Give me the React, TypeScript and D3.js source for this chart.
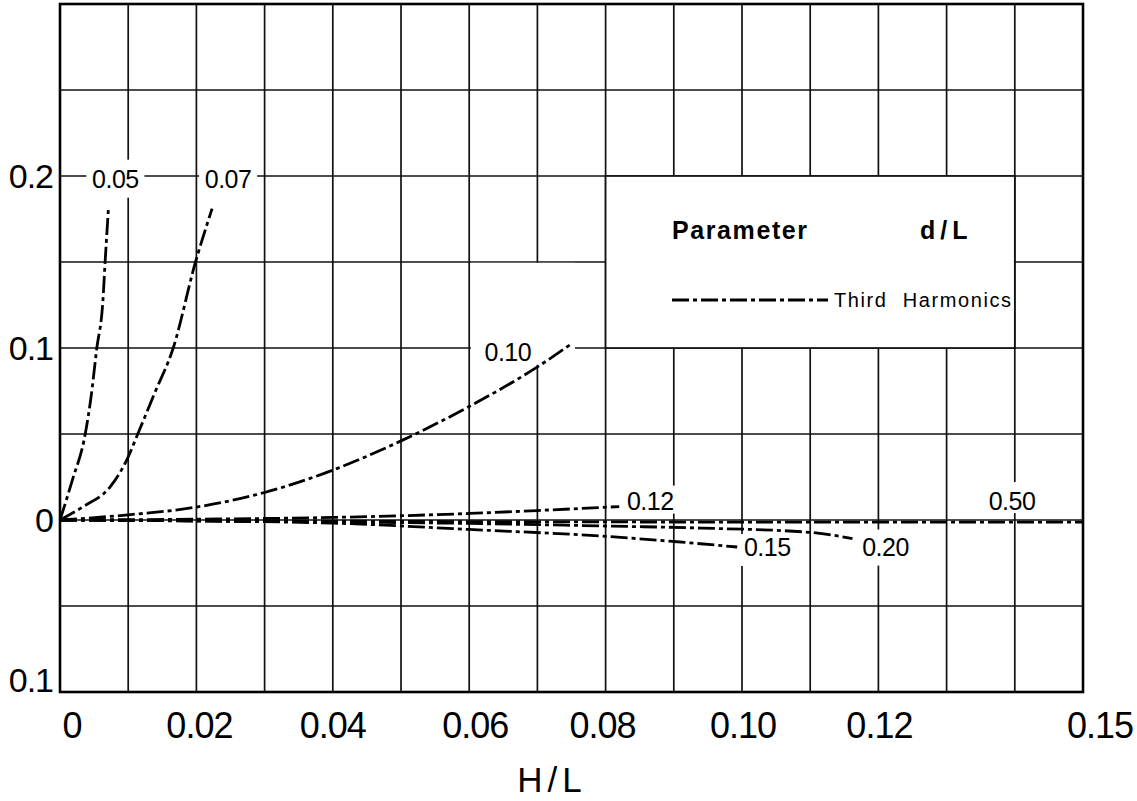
import React from "react";
import * as d3 from "d3";

// ---------- data ----------
const xTickValues = [0, 0.02, 0.04, 0.06, 0.08, 0.1, 0.12, 0.15];
const xTickLabels = ["0", "0.02", "0.04", "0.06", "0.08", "0.10", "0.12", "0.15"];
const yTickValues = [0.2, 0.1, 0, -0.1];
const yTickLabels = ["0.2", "0.1", "0", "0.1"];

const curveNames = ["0.05", "0.07", "0.10", "0.12", "0.15", "0.20", "0.50"];

const curve005: [number, number][] = [
  [0, 0], [0.0018, 0.023], [0.0037, 0.05], [0.0045, 0.07], [0.0054, 0.1],
  [0.0063, 0.128], [0.0066, 0.149], [0.0071, 0.181],
];
const curve007: [number, number][] = [
  [0, 0], [0.0035, 0.008], [0.0073, 0.019], [0.0098, 0.035], [0.0114, 0.05],
  [0.0139, 0.074], [0.0166, 0.1], [0.0198, 0.149], [0.0223, 0.181],
];
const curve010: [number, number][] = [
  [0, 0], [0.01, 0.003], [0.02, 0.0075], [0.03, 0.016], [0.04, 0.029],
  [0.05, 0.046], [0.06, 0.066], [0.07, 0.089], [0.0752, 0.103],
];
const curve012: [number, number][] = [
  [0, 0], [0.02, 0.0005], [0.04, 0.0015], [0.06, 0.0038], [0.07, 0.0055], [0.082, 0.0078],
];
const curve015: [number, number][] = [
  [0, 0], [0.02, -0.0006], [0.04, -0.0018], [0.06, -0.0055], [0.08, -0.0095],
  [0.09, -0.0125], [0.0993, -0.0157],
];
const curve020: [number, number][] = [
  [0, 0], [0.03, -0.0008], [0.06, -0.002], [0.08, -0.0035], [0.094, -0.0047],
  [0.11, -0.0072], [0.1162, -0.0108],
];
const curve050: [number, number][] = [
  [0, 0], [0.05, -0.0008], [0.1, -0.0012], [0.15, -0.0012],
];
const curves = [curve005, curve007, curve010, curve012, curve015, curve020, curve050];

const legendTitle = "Parameter";
const legendParam = "d/L";
const legendItem = "Third Harmonics";
const xTitle = "H/L";

// ---------- layout ----------
const W = 1137;
const H = 801;
const FONT = "'Liberation Sans', Arial, sans-serif";
// label placement relative to the last point of each curve (px)
const labelLayout = [
  { dx: 7, dy: -30, padL: 4, padR: 4, padT: 10, padB: 10 },
  { dx: 16, dy: -30, padL: 4, padR: 4, padT: 6, padB: 6 },
  { dx: -65, dy: 9, padL: 12, padR: 42, padT: 80, padB: 4 },
  { dx: 31, dy: -6, padL: 3, padR: 1, padT: 6, padB: 4 },
  { dx: 30, dy: 0, padL: 6, padR: 4, padT: 4, padB: 10 },
  { dx: 33, dy: 8, padL: 4, padR: 4, padT: 8, padB: 10 },
  { dx: -71, dy: -21, padL: 4, padR: 4, padT: 10, padB: 3 },
];
const xLabelNudge = [12, 3, 0, 6, -3, 1, 1, 17];

export default function App() {
  const x = d3.scaleLinear().domain([0, 0.15]).range([60, 1083]);
  const y = d3.scaleLinear().domain([-0.1, 0.3]).range([692, 4]);

  const xGrid = d3.range(0, 16).map((i) => i * 0.01);
  const yGrid = d3.range(0, 9).map((i) => -0.1 + i * 0.05);

  const line = d3
    .line<[number, number]>()
    .x((d) => x(d[0]))
    .y((d) => y(d[1]))
    .curve(d3.curveMonotoneX);

  const curveFont = 25;
  const labelW = (s: string) => s.length * 0.5 * curveFont;

  const legendX0 = x(0.08);
  const legendX1 = x(0.14);
  const legendY0 = y(0.2);
  const legendY1 = y(0.1);

  const dash = "17,4,4,4";

  return (
    <svg
      width={W}
      height={H}
      style={{ position: "absolute", left: 0, top: 0, background: "#fff" }}
      fontFamily={FONT}
    >
      <rect x={0} y={0} width={W} height={H} fill="#fff" />
      {/* grid */}
      <g stroke="#111" strokeWidth={1.7}>
        {xGrid.map((v, i) => (
          <line key={"gx" + i} x1={x(v)} x2={x(v)} y1={y(0.3)} y2={y(-0.1)} />
        ))}
        {yGrid.map((v, i) => (
          <line key={"gy" + i} x1={x(0)} x2={x(0.15)} y1={y(v)} y2={y(v)} />
        ))}
      </g>
      {/* frame */}
      <rect
        x={x(0)}
        y={y(0.3)}
        width={x(0.15) - x(0)}
        height={y(-0.1) - y(0.3)}
        fill="none"
        stroke="#000"
        strokeWidth={2.6}
      />
      {/* legend box */}
      <rect
        x={legendX0}
        y={legendY0}
        width={legendX1 - legendX0}
        height={legendY1 - legendY0}
        fill="#fff"
        stroke="#111"
        strokeWidth={1.7}
      />
      {/* label backgrounds */}
      {curves.map((c, i) => {
        const last = c[c.length - 1];
        const L = labelLayout[i];
        const cx = x(last[0]) + L.dx;
        const cy = y(last[1]) + L.dy;
        const w = labelW(curveNames[i]);
        return (
          <rect
            key={"bg" + i}
            x={cx - w / 2 - L.padL}
            y={cy - 9 - L.padT}
            width={w + L.padL + L.padR}
            height={18 + L.padT + L.padB}
            fill="#fff"
          />
        );
      })}
      {/* curves */}
      <g fill="none" stroke="#000" strokeWidth={2.8} strokeDasharray={dash}>
        {curves.map((c, i) => (
          <path key={"c" + i} d={line(c) || ""} />
        ))}
      </g>
      {/* curve labels */}
      {curves.map((c, i) => {
        const last = c[c.length - 1];
        const L = labelLayout[i];
        return (
          <text
            key={"lb" + i}
            x={x(last[0]) + L.dx}
            y={y(last[1]) + L.dy + 9}
            textAnchor="middle"
            fontSize={curveFont}
            letterSpacing={-0.5}
            fill="#000"
          >
            {curveNames[i]}
          </text>
        );
      })}
      {/* x tick labels */}
      {xTickValues.map((v, i) => (
        <text
          key={"xt" + i}
          x={x(v) + xLabelNudge[i]}
          y={738}
          textAnchor="middle"
          fontSize={36}
          letterSpacing={-1}
          fill="#000"
        >
          {xTickLabels[i]}
        </text>
      ))}
      {/* y tick labels */}
      {yTickValues.map((v, i) => (
        <text
          key={"yt" + i}
          x={53}
          y={Math.min(y(v) + 12, 692)}
          textAnchor="end"
          fontSize={34}
          letterSpacing={-1}
          fill="#000"
        >
          {yTickLabels[i]}
        </text>
      ))}
      {/* x title */}
      <text x={552} y={792} textAnchor="middle" fontSize={35} letterSpacing={5} fill="#000">
        {xTitle}
      </text>
      {/* legend content */}
      <text x={672} y={239} fontSize={25} fontWeight="bold" letterSpacing={1.6} fill="#000">
        {legendTitle}
      </text>
      <text x={920} y={239} fontSize={25} fontWeight="bold" letterSpacing={5} fill="#000">
        {legendParam}
      </text>
      <line
        x1={672}
        x2={828}
        y1={300}
        y2={300}
        stroke="#000"
        strokeWidth={2.8}
        strokeDasharray={dash}
      />
      <text x={834} y={307} fontSize={20} letterSpacing={1.6} wordSpacing={8} fill="#000">
        {legendItem}
      </text>
    </svg>
  );
}
